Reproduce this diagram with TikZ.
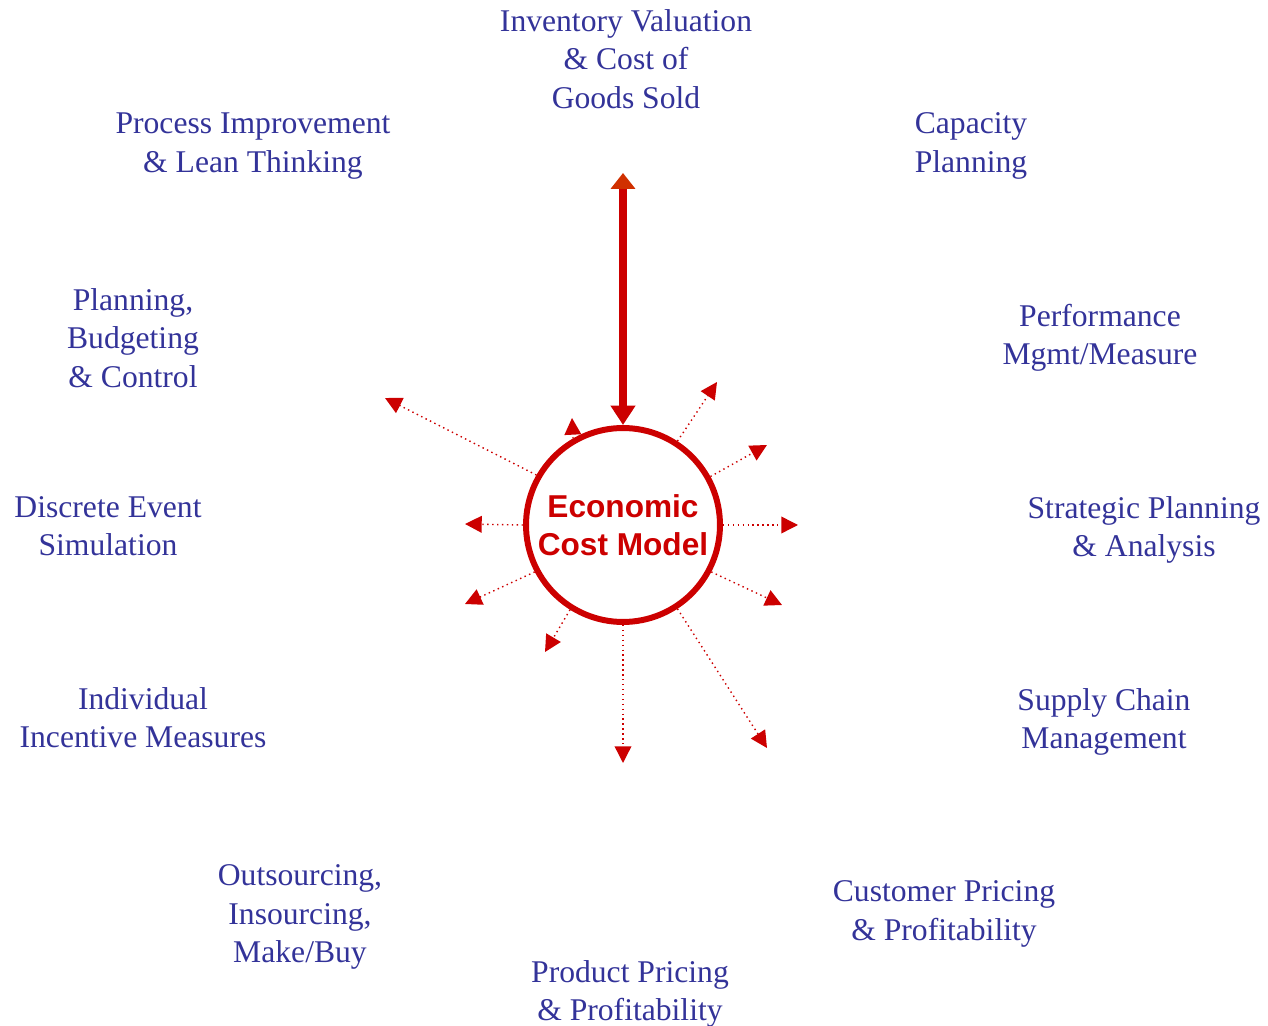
\documentclass[tikz,border=0pt]{standalone}
\usepackage{fontspec}
\setmainfont{Liberation Serif}
\newfontfamily\ecmfont{Liberation Sans}
\usepackage{xcolor}
\usepackage{tikz}
\usetikzlibrary{arrows.meta}

\definecolor{topicblue}{HTML}{333399}
\definecolor{ecmred}{HTML}{CC0000}
\definecolor{tipred}{HTML}{D03000}

\tikzset{
  topic/.style={text=topicblue,align=center,inner sep=0pt,
    font=\fontsize{18}{21.8}\selectfont},
  ecmcircle/.style={circle,draw=ecmred,line width=3.4pt,minimum size=3.88cm,
    inner sep=0pt,text=ecmred,align=center,
    font=\ecmfont\bfseries\fontsize{18}{21.5}\selectfont},
  spoke/.style={ecmred,dotted,line width=0.8pt,
    -{Triangle[length=9.5pt,width=9.5pt]}},
}

\begin{document}
\begin{tikzpicture}[x=0.02cm,y=-0.02cm]
\useasboundingbox (0,0) rectangle (1268,1026);

% Centre
\node[ecmcircle] (ecm) at (623,525) {Economic\\Cost Model};

% Topics
\node[topic] (inv) at (626,59) {Inventory Valuation\\\& Cost of\\Goods Sold};
\node[topic] (proc) at (253,146) {Process Improvement\\\& Lean Thinking};
\node[topic] (cap) at (971,146) {Capacity\\Planning};
\node[topic] (plan) at (133,338) {Planning,\\Budgeting\\\& Control};
\node[topic] (perf) at (1100,338) {Performance\\Mgmt/Measure};
\node[topic] (des) at (108,526) {Discrete Event\\Simulation};
\node[topic] (strat) at (1144,530) {Strategic Planning\\\& Analysis};
\node[topic] (indiv) at (143,718) {Individual\\Incentive Measures};
\node[topic] (supply) at (1104,722) {Supply Chain\\Management};
\node[topic] (outs) at (300,917) {Outsourcing,\\Insourcing,\\Make/Buy};
\node[topic] (cust) at (944,914) {Customer Pricing\\\& Profitability};
\node[topic] (prod) at (630,994) {Product Pricing\\\& Profitability};

% Main flow
\coordinate (top) at (623,173);
\draw[ecmred,line width=5pt,
  {Triangle[length=9pt,width=13.5pt,color=tipred]}-{Triangle[length=11pt,width=13.5pt]}]
  (top) -- (ecm.north);

% Spokes
\coordinate (tA) at (385,398);
\coordinate (tB) at (572,418);
\coordinate (tC) at (717,382);
\coordinate (tD) at (767,445);
\coordinate (tE) at (798,525);
\coordinate (tF) at (782,605);
\coordinate (tG) at (767,748);
\coordinate (tH) at (623,763);
\coordinate (tI) at (545,652);
\coordinate (tJ) at (465,604);
\coordinate (tK) at (465,524);
\foreach \ang/\tip in {150/tA,120/tB,57/tC,29/tD,0/tE,-28/tF,-57/tG,-90/tH,-122/tI,-152/tJ,180/tK} {
  \draw[spoke] (ecm.\ang) -- (\tip);
}
\end{tikzpicture}
\end{document}
